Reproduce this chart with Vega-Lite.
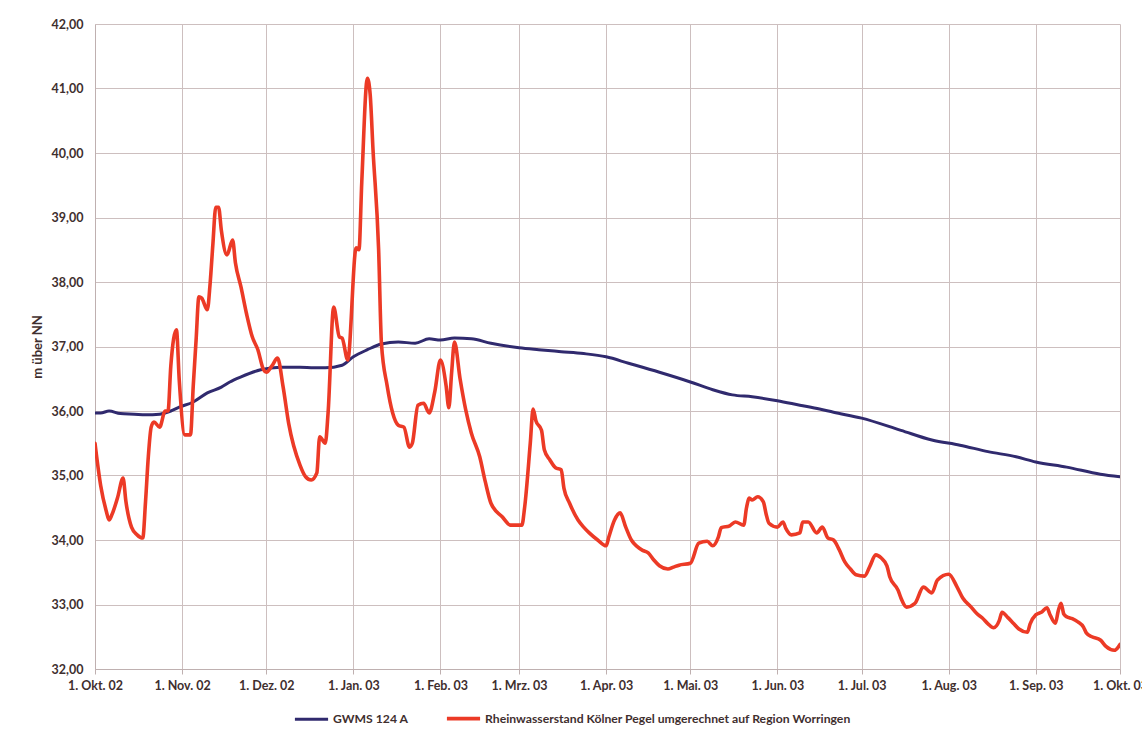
{
  "$schema": "https://vega.github.io/schema/vega-lite/v6.json",
  "width": 1025,
  "height": 645,
  "autosize": {"type": "none"},
  "padding": {"left": 95, "top": 24, "right": 22, "bottom": 67},
  "background": "white",
  "config": {
    "view": {"stroke": null},
    "font": "Lato",
    "axis": {
      "labelFont": "Lato",
      "labelFontWeight": "bold",
      "labelFontSize": 12.5,
      "labelColor": "#3f2f2f",
      "titleFont": "Lato",
      "titleColor": "#3f2f2f",
      "gridColor": "#cdbfbf",
      "gridOpacity": 1,
      "gridWidth": 1,
      "domainColor": "#bfb0b0",
      "tickColor": "#bfb0b0"
    },
    "legend": {
      "labelFont": "Lato",
      "labelFontWeight": "bold",
      "labelFontSize": 12.2,
      "labelColor": "#3f2f2f",
      "labelLimit": 0
    }
  },
  "data": {
    "values": [
      {"date": "2002-10-01", "series": "GWMS 124 A", "value": 35.97},
      {"date": "2002-10-03", "series": "GWMS 124 A", "value": 35.97},
      {"date": "2002-10-06", "series": "GWMS 124 A", "value": 36.0},
      {"date": "2002-10-10", "series": "GWMS 124 A", "value": 35.96},
      {"date": "2002-10-15", "series": "GWMS 124 A", "value": 35.95},
      {"date": "2002-10-19", "series": "GWMS 124 A", "value": 35.94},
      {"date": "2002-10-24", "series": "GWMS 124 A", "value": 35.95},
      {"date": "2002-10-28", "series": "GWMS 124 A", "value": 36.0},
      {"date": "2002-10-31", "series": "GWMS 124 A", "value": 36.06},
      {"date": "2002-11-05", "series": "GWMS 124 A", "value": 36.14},
      {"date": "2002-11-10", "series": "GWMS 124 A", "value": 36.28},
      {"date": "2002-11-15", "series": "GWMS 124 A", "value": 36.37},
      {"date": "2002-11-18", "series": "GWMS 124 A", "value": 36.45},
      {"date": "2002-11-22", "series": "GWMS 124 A", "value": 36.53},
      {"date": "2002-11-29", "series": "GWMS 124 A", "value": 36.64},
      {"date": "2002-12-06", "series": "GWMS 124 A", "value": 36.68},
      {"date": "2002-12-13", "series": "GWMS 124 A", "value": 36.68},
      {"date": "2002-12-18", "series": "GWMS 124 A", "value": 36.67},
      {"date": "2002-12-22", "series": "GWMS 124 A", "value": 36.67},
      {"date": "2002-12-28", "series": "GWMS 124 A", "value": 36.71},
      {"date": "2003-01-01", "series": "GWMS 124 A", "value": 36.84},
      {"date": "2003-01-06", "series": "GWMS 124 A", "value": 36.95},
      {"date": "2003-01-11", "series": "GWMS 124 A", "value": 37.04},
      {"date": "2003-01-17", "series": "GWMS 124 A", "value": 37.07},
      {"date": "2003-01-23", "series": "GWMS 124 A", "value": 37.05},
      {"date": "2003-01-28", "series": "GWMS 124 A", "value": 37.12},
      {"date": "2003-02-01", "series": "GWMS 124 A", "value": 37.1},
      {"date": "2003-02-06", "series": "GWMS 124 A", "value": 37.13},
      {"date": "2003-02-12", "series": "GWMS 124 A", "value": 37.12},
      {"date": "2003-02-19", "series": "GWMS 124 A", "value": 37.05},
      {"date": "2003-03-01", "series": "GWMS 124 A", "value": 36.98},
      {"date": "2003-03-08", "series": "GWMS 124 A", "value": 36.95},
      {"date": "2003-03-16", "series": "GWMS 124 A", "value": 36.92},
      {"date": "2003-03-24", "series": "GWMS 124 A", "value": 36.89},
      {"date": "2003-04-01", "series": "GWMS 124 A", "value": 36.84},
      {"date": "2003-04-09", "series": "GWMS 124 A", "value": 36.74},
      {"date": "2003-04-20", "series": "GWMS 124 A", "value": 36.6},
      {"date": "2003-05-01", "series": "GWMS 124 A", "value": 36.45},
      {"date": "2003-05-09", "series": "GWMS 124 A", "value": 36.33},
      {"date": "2003-05-16", "series": "GWMS 124 A", "value": 36.25},
      {"date": "2003-05-23", "series": "GWMS 124 A", "value": 36.22},
      {"date": "2003-06-01", "series": "GWMS 124 A", "value": 36.16},
      {"date": "2003-06-09", "series": "GWMS 124 A", "value": 36.09},
      {"date": "2003-06-16", "series": "GWMS 124 A", "value": 36.03},
      {"date": "2003-06-21", "series": "GWMS 124 A", "value": 35.98},
      {"date": "2003-07-01", "series": "GWMS 124 A", "value": 35.89},
      {"date": "2003-07-15", "series": "GWMS 124 A", "value": 35.7},
      {"date": "2003-07-26", "series": "GWMS 124 A", "value": 35.55},
      {"date": "2003-08-05", "series": "GWMS 124 A", "value": 35.47},
      {"date": "2003-08-15", "series": "GWMS 124 A", "value": 35.37},
      {"date": "2003-08-25", "series": "GWMS 124 A", "value": 35.29},
      {"date": "2003-09-01", "series": "GWMS 124 A", "value": 35.21},
      {"date": "2003-09-12", "series": "GWMS 124 A", "value": 35.13},
      {"date": "2003-09-24", "series": "GWMS 124 A", "value": 35.02},
      {"date": "2003-10-01", "series": "GWMS 124 A", "value": 34.98},

      {"date": "2002-10-01", "series": "Rheinwasserstand Kölner Pegel umgerechnet auf Region Worringen", "value": 35.5},
      {"date": "2002-10-03", "series": "Rheinwasserstand Kölner Pegel umgerechnet auf Region Worringen", "value": 34.85},
      {"date": "2002-10-05", "series": "Rheinwasserstand Kölner Pegel umgerechnet auf Region Worringen", "value": 34.45},
      {"date": "2002-10-06", "series": "Rheinwasserstand Kölner Pegel umgerechnet auf Region Worringen", "value": 34.31},
      {"date": "2002-10-07", "series": "Rheinwasserstand Kölner Pegel umgerechnet auf Region Worringen", "value": 34.39},
      {"date": "2002-10-09", "series": "Rheinwasserstand Kölner Pegel umgerechnet auf Region Worringen", "value": 34.65},
      {"date": "2002-10-11", "series": "Rheinwasserstand Kölner Pegel umgerechnet auf Region Worringen", "value": 34.96},
      {"date": "2002-10-12", "series": "Rheinwasserstand Kölner Pegel umgerechnet auf Region Worringen", "value": 34.6},
      {"date": "2002-10-14", "series": "Rheinwasserstand Kölner Pegel umgerechnet auf Region Worringen", "value": 34.2},
      {"date": "2002-10-16", "series": "Rheinwasserstand Kölner Pegel umgerechnet auf Region Worringen", "value": 34.08},
      {"date": "2002-10-18", "series": "Rheinwasserstand Kölner Pegel umgerechnet auf Region Worringen", "value": 34.03},
      {"date": "2002-10-19", "series": "Rheinwasserstand Kölner Pegel umgerechnet auf Region Worringen", "value": 34.6},
      {"date": "2002-10-20", "series": "Rheinwasserstand Kölner Pegel umgerechnet auf Region Worringen", "value": 35.3},
      {"date": "2002-10-21", "series": "Rheinwasserstand Kölner Pegel umgerechnet auf Region Worringen", "value": 35.75},
      {"date": "2002-10-22", "series": "Rheinwasserstand Kölner Pegel umgerechnet auf Region Worringen", "value": 35.83},
      {"date": "2002-10-24", "series": "Rheinwasserstand Kölner Pegel umgerechnet auf Region Worringen", "value": 35.75},
      {"date": "2002-10-26", "series": "Rheinwasserstand Kölner Pegel umgerechnet auf Region Worringen", "value": 36.0},
      {"date": "2002-10-27", "series": "Rheinwasserstand Kölner Pegel umgerechnet auf Region Worringen", "value": 36.0},
      {"date": "2002-10-28", "series": "Rheinwasserstand Kölner Pegel umgerechnet auf Region Worringen", "value": 36.7},
      {"date": "2002-10-30", "series": "Rheinwasserstand Kölner Pegel umgerechnet auf Region Worringen", "value": 37.26},
      {"date": "2002-10-31", "series": "Rheinwasserstand Kölner Pegel umgerechnet auf Region Worringen", "value": 36.48},
      {"date": "2002-11-02", "series": "Rheinwasserstand Kölner Pegel umgerechnet auf Region Worringen", "value": 35.63},
      {"date": "2002-11-04", "series": "Rheinwasserstand Kölner Pegel umgerechnet auf Region Worringen", "value": 35.63},
      {"date": "2002-11-05", "series": "Rheinwasserstand Kölner Pegel umgerechnet auf Region Worringen", "value": 36.4},
      {"date": "2002-11-06", "series": "Rheinwasserstand Kölner Pegel umgerechnet auf Region Worringen", "value": 37.1},
      {"date": "2002-11-07", "series": "Rheinwasserstand Kölner Pegel umgerechnet auf Region Worringen", "value": 37.77},
      {"date": "2002-11-08", "series": "Rheinwasserstand Kölner Pegel umgerechnet auf Region Worringen", "value": 37.75},
      {"date": "2002-11-10", "series": "Rheinwasserstand Kölner Pegel umgerechnet auf Region Worringen", "value": 37.57},
      {"date": "2002-11-11", "series": "Rheinwasserstand Kölner Pegel umgerechnet auf Region Worringen", "value": 37.98},
      {"date": "2002-11-12", "series": "Rheinwasserstand Kölner Pegel umgerechnet auf Region Worringen", "value": 38.6},
      {"date": "2002-11-13", "series": "Rheinwasserstand Kölner Pegel umgerechnet auf Region Worringen", "value": 39.16},
      {"date": "2002-11-14", "series": "Rheinwasserstand Kölner Pegel umgerechnet auf Region Worringen", "value": 39.16},
      {"date": "2002-11-15", "series": "Rheinwasserstand Kölner Pegel umgerechnet auf Region Worringen", "value": 38.8},
      {"date": "2002-11-17", "series": "Rheinwasserstand Kölner Pegel umgerechnet auf Region Worringen", "value": 38.42},
      {"date": "2002-11-19", "series": "Rheinwasserstand Kölner Pegel umgerechnet auf Region Worringen", "value": 38.65},
      {"date": "2002-11-20", "series": "Rheinwasserstand Kölner Pegel umgerechnet auf Region Worringen", "value": 38.3},
      {"date": "2002-11-22", "series": "Rheinwasserstand Kölner Pegel umgerechnet auf Region Worringen", "value": 37.92},
      {"date": "2002-11-24", "series": "Rheinwasserstand Kölner Pegel umgerechnet auf Region Worringen", "value": 37.5},
      {"date": "2002-11-26", "series": "Rheinwasserstand Kölner Pegel umgerechnet auf Region Worringen", "value": 37.15},
      {"date": "2002-11-28", "series": "Rheinwasserstand Kölner Pegel umgerechnet auf Region Worringen", "value": 36.95},
      {"date": "2002-11-30", "series": "Rheinwasserstand Kölner Pegel umgerechnet auf Region Worringen", "value": 36.64},
      {"date": "2002-12-01", "series": "Rheinwasserstand Kölner Pegel umgerechnet auf Region Worringen", "value": 36.6},
      {"date": "2002-12-03", "series": "Rheinwasserstand Kölner Pegel umgerechnet auf Region Worringen", "value": 36.7},
      {"date": "2002-12-05", "series": "Rheinwasserstand Kölner Pegel umgerechnet auf Region Worringen", "value": 36.82},
      {"date": "2002-12-07", "series": "Rheinwasserstand Kölner Pegel umgerechnet auf Region Worringen", "value": 36.37},
      {"date": "2002-12-09", "series": "Rheinwasserstand Kölner Pegel umgerechnet auf Region Worringen", "value": 35.8},
      {"date": "2002-12-13", "series": "Rheinwasserstand Kölner Pegel umgerechnet auf Region Worringen", "value": 35.16},
      {"date": "2002-12-15", "series": "Rheinwasserstand Kölner Pegel umgerechnet auf Region Worringen", "value": 34.98},
      {"date": "2002-12-17", "series": "Rheinwasserstand Kölner Pegel umgerechnet auf Region Worringen", "value": 34.93},
      {"date": "2002-12-19", "series": "Rheinwasserstand Kölner Pegel umgerechnet auf Region Worringen", "value": 35.04},
      {"date": "2002-12-20", "series": "Rheinwasserstand Kölner Pegel umgerechnet auf Region Worringen", "value": 35.6},
      {"date": "2002-12-22", "series": "Rheinwasserstand Kölner Pegel umgerechnet auf Region Worringen", "value": 35.5},
      {"date": "2002-12-23", "series": "Rheinwasserstand Kölner Pegel umgerechnet auf Region Worringen", "value": 35.97},
      {"date": "2002-12-25", "series": "Rheinwasserstand Kölner Pegel umgerechnet auf Region Worringen", "value": 37.61},
      {"date": "2002-12-27", "series": "Rheinwasserstand Kölner Pegel umgerechnet auf Region Worringen", "value": 37.15},
      {"date": "2002-12-28", "series": "Rheinwasserstand Kölner Pegel umgerechnet auf Region Worringen", "value": 37.13},
      {"date": "2002-12-30", "series": "Rheinwasserstand Kölner Pegel umgerechnet auf Region Worringen", "value": 36.79},
      {"date": "2003-01-02", "series": "Rheinwasserstand Kölner Pegel umgerechnet auf Region Worringen", "value": 38.53},
      {"date": "2003-01-03", "series": "Rheinwasserstand Kölner Pegel umgerechnet auf Region Worringen", "value": 38.5},
      {"date": "2003-01-04", "series": "Rheinwasserstand Kölner Pegel umgerechnet auf Region Worringen", "value": 39.55},
      {"date": "2003-01-06", "series": "Rheinwasserstand Kölner Pegel umgerechnet auf Region Worringen", "value": 41.16},
      {"date": "2003-01-07", "series": "Rheinwasserstand Kölner Pegel umgerechnet auf Region Worringen", "value": 40.9},
      {"date": "2003-01-08", "series": "Rheinwasserstand Kölner Pegel umgerechnet auf Region Worringen", "value": 40.05},
      {"date": "2003-01-10", "series": "Rheinwasserstand Kölner Pegel umgerechnet auf Region Worringen", "value": 38.5},
      {"date": "2003-01-11", "series": "Rheinwasserstand Kölner Pegel umgerechnet auf Region Worringen", "value": 37.05},
      {"date": "2003-01-13", "series": "Rheinwasserstand Kölner Pegel umgerechnet auf Region Worringen", "value": 36.4},
      {"date": "2003-01-15", "series": "Rheinwasserstand Kölner Pegel umgerechnet auf Region Worringen", "value": 35.97},
      {"date": "2003-01-17", "series": "Rheinwasserstand Kölner Pegel umgerechnet auf Region Worringen", "value": 35.78},
      {"date": "2003-01-19", "series": "Rheinwasserstand Kölner Pegel umgerechnet auf Region Worringen", "value": 35.75},
      {"date": "2003-01-21", "series": "Rheinwasserstand Kölner Pegel umgerechnet auf Region Worringen", "value": 35.44},
      {"date": "2003-01-22", "series": "Rheinwasserstand Kölner Pegel umgerechnet auf Region Worringen", "value": 35.5},
      {"date": "2003-01-24", "series": "Rheinwasserstand Kölner Pegel umgerechnet auf Region Worringen", "value": 36.09},
      {"date": "2003-01-26", "series": "Rheinwasserstand Kölner Pegel umgerechnet auf Region Worringen", "value": 36.12},
      {"date": "2003-01-28", "series": "Rheinwasserstand Kölner Pegel umgerechnet auf Region Worringen", "value": 35.97},
      {"date": "2003-01-30", "series": "Rheinwasserstand Kölner Pegel umgerechnet auf Region Worringen", "value": 36.3},
      {"date": "2003-02-01", "series": "Rheinwasserstand Kölner Pegel umgerechnet auf Region Worringen", "value": 36.79},
      {"date": "2003-02-03", "series": "Rheinwasserstand Kölner Pegel umgerechnet auf Region Worringen", "value": 36.4},
      {"date": "2003-02-04", "series": "Rheinwasserstand Kölner Pegel umgerechnet auf Region Worringen", "value": 36.05},
      {"date": "2003-02-05", "series": "Rheinwasserstand Kölner Pegel umgerechnet auf Region Worringen", "value": 36.6},
      {"date": "2003-02-06", "series": "Rheinwasserstand Kölner Pegel umgerechnet auf Region Worringen", "value": 37.07},
      {"date": "2003-02-08", "series": "Rheinwasserstand Kölner Pegel umgerechnet auf Region Worringen", "value": 36.5},
      {"date": "2003-02-10", "series": "Rheinwasserstand Kölner Pegel umgerechnet auf Region Worringen", "value": 36.02},
      {"date": "2003-02-12", "series": "Rheinwasserstand Kölner Pegel umgerechnet auf Region Worringen", "value": 35.66},
      {"date": "2003-02-15", "series": "Rheinwasserstand Kölner Pegel umgerechnet auf Region Worringen", "value": 35.29},
      {"date": "2003-02-17", "series": "Rheinwasserstand Kölner Pegel umgerechnet auf Region Worringen", "value": 34.9},
      {"date": "2003-02-19", "series": "Rheinwasserstand Kölner Pegel umgerechnet auf Region Worringen", "value": 34.57},
      {"date": "2003-02-23", "series": "Rheinwasserstand Kölner Pegel umgerechnet auf Region Worringen", "value": 34.36},
      {"date": "2003-02-26", "series": "Rheinwasserstand Kölner Pegel umgerechnet auf Region Worringen", "value": 34.23},
      {"date": "2003-03-02", "series": "Rheinwasserstand Kölner Pegel umgerechnet auf Region Worringen", "value": 34.23},
      {"date": "2003-03-03", "series": "Rheinwasserstand Kölner Pegel umgerechnet auf Region Worringen", "value": 34.51},
      {"date": "2003-03-05", "series": "Rheinwasserstand Kölner Pegel umgerechnet auf Region Worringen", "value": 35.5},
      {"date": "2003-03-06", "series": "Rheinwasserstand Kölner Pegel umgerechnet auf Region Worringen", "value": 36.03},
      {"date": "2003-03-07", "series": "Rheinwasserstand Kölner Pegel umgerechnet auf Region Worringen", "value": 35.85},
      {"date": "2003-03-09", "series": "Rheinwasserstand Kölner Pegel umgerechnet auf Region Worringen", "value": 35.7},
      {"date": "2003-03-10", "series": "Rheinwasserstand Kölner Pegel umgerechnet auf Region Worringen", "value": 35.4},
      {"date": "2003-03-12", "series": "Rheinwasserstand Kölner Pegel umgerechnet auf Region Worringen", "value": 35.24},
      {"date": "2003-03-14", "series": "Rheinwasserstand Kölner Pegel umgerechnet auf Region Worringen", "value": 35.12},
      {"date": "2003-03-16", "series": "Rheinwasserstand Kölner Pegel umgerechnet auf Region Worringen", "value": 35.09},
      {"date": "2003-03-17", "series": "Rheinwasserstand Kölner Pegel umgerechnet auf Region Worringen", "value": 34.8},
      {"date": "2003-03-19", "series": "Rheinwasserstand Kölner Pegel umgerechnet auf Region Worringen", "value": 34.57},
      {"date": "2003-03-22", "series": "Rheinwasserstand Kölner Pegel umgerechnet auf Region Worringen", "value": 34.31},
      {"date": "2003-03-24", "series": "Rheinwasserstand Kölner Pegel umgerechnet auf Region Worringen", "value": 34.2},
      {"date": "2003-03-26", "series": "Rheinwasserstand Kölner Pegel umgerechnet auf Region Worringen", "value": 34.11},
      {"date": "2003-03-29", "series": "Rheinwasserstand Kölner Pegel umgerechnet auf Region Worringen", "value": 34.0},
      {"date": "2003-04-01", "series": "Rheinwasserstand Kölner Pegel umgerechnet auf Region Worringen", "value": 33.91},
      {"date": "2003-04-02", "series": "Rheinwasserstand Kölner Pegel umgerechnet auf Region Worringen", "value": 34.05},
      {"date": "2003-04-04", "series": "Rheinwasserstand Kölner Pegel umgerechnet auf Region Worringen", "value": 34.31},
      {"date": "2003-04-06", "series": "Rheinwasserstand Kölner Pegel umgerechnet auf Region Worringen", "value": 34.42},
      {"date": "2003-04-08", "series": "Rheinwasserstand Kölner Pegel umgerechnet auf Region Worringen", "value": 34.2},
      {"date": "2003-04-10", "series": "Rheinwasserstand Kölner Pegel umgerechnet auf Region Worringen", "value": 34.0},
      {"date": "2003-04-12", "series": "Rheinwasserstand Kölner Pegel umgerechnet auf Region Worringen", "value": 33.9},
      {"date": "2003-04-14", "series": "Rheinwasserstand Kölner Pegel umgerechnet auf Region Worringen", "value": 33.84},
      {"date": "2003-04-16", "series": "Rheinwasserstand Kölner Pegel umgerechnet auf Region Worringen", "value": 33.8},
      {"date": "2003-04-18", "series": "Rheinwasserstand Kölner Pegel umgerechnet auf Region Worringen", "value": 33.69},
      {"date": "2003-04-20", "series": "Rheinwasserstand Kölner Pegel umgerechnet auf Region Worringen", "value": 33.6},
      {"date": "2003-04-23", "series": "Rheinwasserstand Kölner Pegel umgerechnet auf Region Worringen", "value": 33.55},
      {"date": "2003-04-25", "series": "Rheinwasserstand Kölner Pegel umgerechnet auf Region Worringen", "value": 33.58},
      {"date": "2003-04-27", "series": "Rheinwasserstand Kölner Pegel umgerechnet auf Region Worringen", "value": 33.61},
      {"date": "2003-05-01", "series": "Rheinwasserstand Kölner Pegel umgerechnet auf Region Worringen", "value": 33.64},
      {"date": "2003-05-04", "series": "Rheinwasserstand Kölner Pegel umgerechnet auf Region Worringen", "value": 33.95},
      {"date": "2003-05-07", "series": "Rheinwasserstand Kölner Pegel umgerechnet auf Region Worringen", "value": 33.98},
      {"date": "2003-05-09", "series": "Rheinwasserstand Kölner Pegel umgerechnet auf Region Worringen", "value": 33.91},
      {"date": "2003-05-11", "series": "Rheinwasserstand Kölner Pegel umgerechnet auf Region Worringen", "value": 34.05},
      {"date": "2003-05-12", "series": "Rheinwasserstand Kölner Pegel umgerechnet auf Region Worringen", "value": 34.19},
      {"date": "2003-05-15", "series": "Rheinwasserstand Kölner Pegel umgerechnet auf Region Worringen", "value": 34.22},
      {"date": "2003-05-17", "series": "Rheinwasserstand Kölner Pegel umgerechnet auf Region Worringen", "value": 34.28},
      {"date": "2003-05-20", "series": "Rheinwasserstand Kölner Pegel umgerechnet auf Region Worringen", "value": 34.23},
      {"date": "2003-05-21", "series": "Rheinwasserstand Kölner Pegel umgerechnet auf Region Worringen", "value": 34.5},
      {"date": "2003-05-22", "series": "Rheinwasserstand Kölner Pegel umgerechnet auf Region Worringen", "value": 34.65},
      {"date": "2003-05-23", "series": "Rheinwasserstand Kölner Pegel umgerechnet auf Region Worringen", "value": 34.62},
      {"date": "2003-05-25", "series": "Rheinwasserstand Kölner Pegel umgerechnet auf Region Worringen", "value": 34.67},
      {"date": "2003-05-27", "series": "Rheinwasserstand Kölner Pegel umgerechnet auf Region Worringen", "value": 34.59},
      {"date": "2003-05-28", "series": "Rheinwasserstand Kölner Pegel umgerechnet auf Region Worringen", "value": 34.4},
      {"date": "2003-05-29", "series": "Rheinwasserstand Kölner Pegel umgerechnet auf Region Worringen", "value": 34.26},
      {"date": "2003-06-01", "series": "Rheinwasserstand Kölner Pegel umgerechnet auf Region Worringen", "value": 34.2},
      {"date": "2003-06-03", "series": "Rheinwasserstand Kölner Pegel umgerechnet auf Region Worringen", "value": 34.28},
      {"date": "2003-06-04", "series": "Rheinwasserstand Kölner Pegel umgerechnet auf Region Worringen", "value": 34.18},
      {"date": "2003-06-06", "series": "Rheinwasserstand Kölner Pegel umgerechnet auf Region Worringen", "value": 34.08},
      {"date": "2003-06-09", "series": "Rheinwasserstand Kölner Pegel umgerechnet auf Region Worringen", "value": 34.11},
      {"date": "2003-06-10", "series": "Rheinwasserstand Kölner Pegel umgerechnet auf Region Worringen", "value": 34.28},
      {"date": "2003-06-12", "series": "Rheinwasserstand Kölner Pegel umgerechnet auf Region Worringen", "value": 34.28},
      {"date": "2003-06-15", "series": "Rheinwasserstand Kölner Pegel umgerechnet auf Region Worringen", "value": 34.11},
      {"date": "2003-06-17", "series": "Rheinwasserstand Kölner Pegel umgerechnet auf Region Worringen", "value": 34.2},
      {"date": "2003-06-19", "series": "Rheinwasserstand Kölner Pegel umgerechnet auf Region Worringen", "value": 34.03},
      {"date": "2003-06-21", "series": "Rheinwasserstand Kölner Pegel umgerechnet auf Region Worringen", "value": 34.0},
      {"date": "2003-06-23", "series": "Rheinwasserstand Kölner Pegel umgerechnet auf Region Worringen", "value": 33.85},
      {"date": "2003-06-25", "series": "Rheinwasserstand Kölner Pegel umgerechnet auf Region Worringen", "value": 33.66},
      {"date": "2003-06-27", "series": "Rheinwasserstand Kölner Pegel umgerechnet auf Region Worringen", "value": 33.55},
      {"date": "2003-06-29", "series": "Rheinwasserstand Kölner Pegel umgerechnet auf Region Worringen", "value": 33.46},
      {"date": "2003-07-02", "series": "Rheinwasserstand Kölner Pegel umgerechnet auf Region Worringen", "value": 33.44},
      {"date": "2003-07-04", "series": "Rheinwasserstand Kölner Pegel umgerechnet auf Region Worringen", "value": 33.6},
      {"date": "2003-07-06", "series": "Rheinwasserstand Kölner Pegel umgerechnet auf Region Worringen", "value": 33.77},
      {"date": "2003-07-08", "series": "Rheinwasserstand Kölner Pegel umgerechnet auf Region Worringen", "value": 33.72},
      {"date": "2003-07-10", "series": "Rheinwasserstand Kölner Pegel umgerechnet auf Region Worringen", "value": 33.6},
      {"date": "2003-07-11", "series": "Rheinwasserstand Kölner Pegel umgerechnet auf Region Worringen", "value": 33.43},
      {"date": "2003-07-14", "series": "Rheinwasserstand Kölner Pegel umgerechnet auf Region Worringen", "value": 33.22},
      {"date": "2003-07-15", "series": "Rheinwasserstand Kölner Pegel umgerechnet auf Region Worringen", "value": 33.1},
      {"date": "2003-07-17", "series": "Rheinwasserstand Kölner Pegel umgerechnet auf Region Worringen", "value": 32.96},
      {"date": "2003-07-20", "series": "Rheinwasserstand Kölner Pegel umgerechnet auf Region Worringen", "value": 33.02},
      {"date": "2003-07-23", "series": "Rheinwasserstand Kölner Pegel umgerechnet auf Region Worringen", "value": 33.27},
      {"date": "2003-07-26", "series": "Rheinwasserstand Kölner Pegel umgerechnet auf Region Worringen", "value": 33.18},
      {"date": "2003-07-28", "series": "Rheinwasserstand Kölner Pegel umgerechnet auf Region Worringen", "value": 33.38},
      {"date": "2003-08-01", "series": "Rheinwasserstand Kölner Pegel umgerechnet auf Region Worringen", "value": 33.47},
      {"date": "2003-08-04", "series": "Rheinwasserstand Kölner Pegel umgerechnet auf Region Worringen", "value": 33.27},
      {"date": "2003-08-06", "series": "Rheinwasserstand Kölner Pegel umgerechnet auf Region Worringen", "value": 33.1},
      {"date": "2003-08-09", "series": "Rheinwasserstand Kölner Pegel umgerechnet auf Region Worringen", "value": 32.96},
      {"date": "2003-08-11", "series": "Rheinwasserstand Kölner Pegel umgerechnet auf Region Worringen", "value": 32.86},
      {"date": "2003-08-13", "series": "Rheinwasserstand Kölner Pegel umgerechnet auf Region Worringen", "value": 32.79},
      {"date": "2003-08-15", "series": "Rheinwasserstand Kölner Pegel umgerechnet auf Region Worringen", "value": 32.7},
      {"date": "2003-08-17", "series": "Rheinwasserstand Kölner Pegel umgerechnet auf Region Worringen", "value": 32.64},
      {"date": "2003-08-19", "series": "Rheinwasserstand Kölner Pegel umgerechnet auf Region Worringen", "value": 32.75},
      {"date": "2003-08-20", "series": "Rheinwasserstand Kölner Pegel umgerechnet auf Region Worringen", "value": 32.88},
      {"date": "2003-08-22", "series": "Rheinwasserstand Kölner Pegel umgerechnet auf Region Worringen", "value": 32.8},
      {"date": "2003-08-24", "series": "Rheinwasserstand Kölner Pegel umgerechnet auf Region Worringen", "value": 32.71},
      {"date": "2003-08-26", "series": "Rheinwasserstand Kölner Pegel umgerechnet auf Region Worringen", "value": 32.62},
      {"date": "2003-08-29", "series": "Rheinwasserstand Kölner Pegel umgerechnet auf Region Worringen", "value": 32.57},
      {"date": "2003-08-30", "series": "Rheinwasserstand Kölner Pegel umgerechnet auf Region Worringen", "value": 32.7},
      {"date": "2003-09-01", "series": "Rheinwasserstand Kölner Pegel umgerechnet auf Region Worringen", "value": 32.84},
      {"date": "2003-09-03", "series": "Rheinwasserstand Kölner Pegel umgerechnet auf Region Worringen", "value": 32.88},
      {"date": "2003-09-05", "series": "Rheinwasserstand Kölner Pegel umgerechnet auf Region Worringen", "value": 32.95},
      {"date": "2003-09-06", "series": "Rheinwasserstand Kölner Pegel umgerechnet auf Region Worringen", "value": 32.85},
      {"date": "2003-09-08", "series": "Rheinwasserstand Kölner Pegel umgerechnet auf Region Worringen", "value": 32.71},
      {"date": "2003-09-09", "series": "Rheinwasserstand Kölner Pegel umgerechnet auf Region Worringen", "value": 32.9},
      {"date": "2003-09-10", "series": "Rheinwasserstand Kölner Pegel umgerechnet auf Region Worringen", "value": 33.02},
      {"date": "2003-09-11", "series": "Rheinwasserstand Kölner Pegel umgerechnet auf Region Worringen", "value": 32.85},
      {"date": "2003-09-12", "series": "Rheinwasserstand Kölner Pegel umgerechnet auf Region Worringen", "value": 32.81},
      {"date": "2003-09-14", "series": "Rheinwasserstand Kölner Pegel umgerechnet auf Region Worringen", "value": 32.78},
      {"date": "2003-09-16", "series": "Rheinwasserstand Kölner Pegel umgerechnet auf Region Worringen", "value": 32.73},
      {"date": "2003-09-18", "series": "Rheinwasserstand Kölner Pegel umgerechnet auf Region Worringen", "value": 32.65},
      {"date": "2003-09-19", "series": "Rheinwasserstand Kölner Pegel umgerechnet auf Region Worringen", "value": 32.56},
      {"date": "2003-09-21", "series": "Rheinwasserstand Kölner Pegel umgerechnet auf Region Worringen", "value": 32.5},
      {"date": "2003-09-24", "series": "Rheinwasserstand Kölner Pegel umgerechnet auf Region Worringen", "value": 32.45},
      {"date": "2003-09-26", "series": "Rheinwasserstand Kölner Pegel umgerechnet auf Region Worringen", "value": 32.35},
      {"date": "2003-09-29", "series": "Rheinwasserstand Kölner Pegel umgerechnet auf Region Worringen", "value": 32.29},
      {"date": "2003-10-01", "series": "Rheinwasserstand Kölner Pegel umgerechnet auf Region Worringen", "value": 32.38}
    ]
  },
  "mark": {"type": "line", "strokeJoin": "round", "strokeCap": "round", "clip": true, "interpolate": "monotone"},
  "encoding": {
    "x": {
      "field": "date",
      "type": "temporal",
      "scale": {
        "type": "utc",
        "domain": [
          {"year": 2002, "month": 10, "date": 1, "utc": true},
          {"year": 2003, "month": 10, "date": 1, "utc": true}
        ]
      },
      "axis": {
        "title": null,
        "values": [
          {"year": 2002, "month": 10, "date": 1, "utc": true},
          {"year": 2002, "month": 11, "date": 1, "utc": true},
          {"year": 2002, "month": 12, "date": 1, "utc": true},
          {"year": 2003, "month": 1, "date": 1, "utc": true},
          {"year": 2003, "month": 2, "date": 1, "utc": true},
          {"year": 2003, "month": 3, "date": 1, "utc": true},
          {"year": 2003, "month": 4, "date": 1, "utc": true},
          {"year": 2003, "month": 5, "date": 1, "utc": true},
          {"year": 2003, "month": 6, "date": 1, "utc": true},
          {"year": 2003, "month": 7, "date": 1, "utc": true},
          {"year": 2003, "month": 8, "date": 1, "utc": true},
          {"year": 2003, "month": 9, "date": 1, "utc": true},
          {"year": 2003, "month": 10, "date": 1, "utc": true}
        ],
        "labelExpr": "'1. ' + ['Jan.','Feb.','Mrz.','Apr.','Mai.','Jun.','Jul.','Aug.','Sep.','Okt.','Nov.','Dez.'][utcmonth(datum.value)] + ' ' + utcFormat(datum.value, '%y')",
        "grid": true,
        "ticks": true,
        "tickSize": 5,
        "labelPadding": 5,
        "labelOverlap": false,
        "labelFlush": false,
        "domain": true
      }
    },
    "y": {
      "field": "value",
      "type": "quantitative",
      "scale": {"domain": [32, 42], "nice": false, "zero": false},
      "axis": {
        "title": "m über NN",
        "titleFontSize": 13,
        "titleFontWeight": "bold",
        "titlePadding": 7,
        "values": [32, 33, 34, 35, 36, 37, 38, 39, 40, 41, 42],
        "labelExpr": "replace(format(datum.value, '.2f'), '.', ',')",
        "grid": true,
        "ticks": false,
        "labelPadding": 12,
        "domain": true
      }
    },
    "color": {
      "field": "series",
      "type": "nominal",
      "sort": null,
      "scale": {
        "domain": ["GWMS 124 A", "Rheinwasserstand Kölner Pegel umgerechnet auf Region Worringen"],
        "range": ["#302a6e", "#ec3a26"]
      },
      "legend": {
        "title": null,
        "orient": "none",
        "direction": "horizontal",
        "legendX": 198,
        "legendY": 676,
        "symbolType": "stroke",
        "symbolSize": 1100,
        "symbolStrokeWidth": 4,
        "labelOffset": 3,
        "columnPadding": 30
      }
    },
    "strokeWidth": {
      "field": "series",
      "type": "nominal",
      "scale": {
        "domain": ["GWMS 124 A", "Rheinwasserstand Kölner Pegel umgerechnet auf Region Worringen"],
        "range": [3, 3.6]
      },
      "legend": null
    }
  }
}
